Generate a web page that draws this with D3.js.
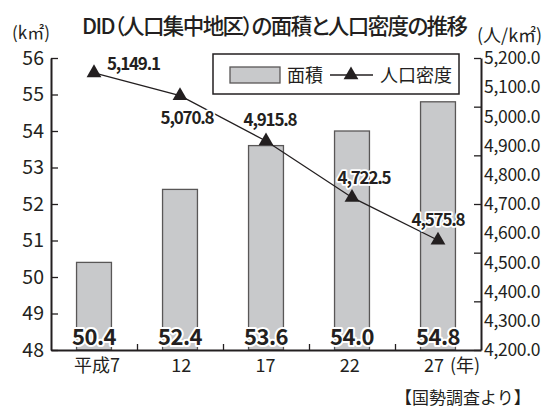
<!DOCTYPE html>
<html>
<head>
<meta charset="utf-8">
<script src="https://cdn.jsdelivr.net/npm/d3@7"></script>
<style>
  body { margin: 0; background: #fff; }
  svg { display: block; font-family: "Noto Sans CJK JP", "Noto Sans", sans-serif; font-feature-settings: "palt"; }
</style>
</head>
<body>
<svg id="chart" width="547" height="409"></svg>
<script>
// data
const years = ["平成7", "12", "17", "22", "27"]
const area = [50.4, 52.4, 53.6, 54.0, 54.8]
const density = [5149.1, 5070.8, 4915.8, 4722.5, 4575.8]
const areaTicks = [48, 49, 50, 51, 52, 53, 54, 55, 56]
const densityTicks = [4200, 4300, 4400, 4500, 4600, 4700, 4800, 4900, 5000, 5100, 5200]

const ink = "#231f20"
const barFill = "#c8c9cb"
const barStroke = "#595757"

const svg = d3.select("#chart")
const plotL = 51, plotR = 481, plotT = 58, plotB = 350

// scales
const x = d3.scaleBand().domain(years).range([plotL, plotR]).paddingInner(0.594).paddingOuter(0.297)
const xl = d3.scalePoint().domain(years).range([97, 434])
const y = d3.scaleLinear().domain([48, 56]).range([plotB, plotT])
const y2 = d3.scaleLinear().domain([4200, 5200]).range([plotB, plotT])
const cx = (d) => x(d) + x.bandwidth() / 2

// bars
svg.append("g").selectAll("rect")
  .data(area)
  .join("rect")
  .attr("x", (d, i) => x(years[i]))
  .attr("y", (d) => y(d))
  .attr("width", x.bandwidth())
  .attr("height", (d) => y(48) - y(d))
  .attr("fill", barFill)
  .attr("stroke", barStroke)
  .attr("stroke-width", 1.3)

// left axis
const gl = svg.append("g").attr("transform", `translate(${plotL},0)`)
  .call(d3.axisLeft(y).tickValues(areaTicks).tickSize(-7).tickPadding(7).tickSizeOuter(0))
gl.select(".domain").attr("stroke", ink).attr("stroke-width", 2)
gl.selectAll(".tick line").attr("stroke", ink).attr("stroke-width", 1.3)
gl.selectAll(".tick text").attr("fill", ink).attr("font-size", 19.5).attr("font-family", "Noto Sans CJK JP")

// right axis: line + 7 tick marks, labels placed separately
const tickScale = d3.scaleLinear().domain([0, 6]).range([plotB, plotT])
const gr = svg.append("g").attr("transform", `translate(${plotR},0)`)
  .call(d3.axisRight(tickScale).ticks(6).tickSize(-7).tickFormat("").tickSizeOuter(0))
gr.select(".domain").attr("stroke", ink).attr("stroke-width", 2)
gr.selectAll(".tick line").attr("stroke", ink).attr("stroke-width", 1.3)

svg.append("g").selectAll("text")
  .data(densityTicks)
  .join("text")
  .attr("x", plotR + 3)
  .attr("y", (d) => y2(d))
  .attr("dy", "0.35em")
  .attr("fill", ink)
  .attr("font-size", 17.5)
  .attr("letter-spacing", -0.3)
  .text((d) => d3.format(",.1f")(d))

// bottom axis
const xt = d3.scaleLinear().domain([0, 5]).range([plotL, plotR])
const gb = svg.append("g").attr("transform", `translate(0,${plotB})`)
  .call(d3.axisBottom(xt).tickValues([1, 2, 3, 4]).tickSize(-6).tickFormat("").tickSizeOuter(0))
gb.select(".domain").attr("stroke", ink).attr("stroke-width", 2)
gb.selectAll(".tick line").attr("stroke", ink).attr("stroke-width", 1.3)

svg.append("g").selectAll("text")
  .data(years)
  .join("text")
  .attr("x", (d) => xl(d))
  .attr("y", 372)
  .attr("text-anchor", "middle")
  .attr("fill", ink)
  .attr("font-size", 18)
  .text((d) => d)

svg.append("text").attr("x", 450).attr("y", 372).attr("fill", ink).attr("font-size", 18).text("(年)")

// bar value labels
svg.append("g").selectAll("text")
  .data(area)
  .join("text")
  .attr("x", (d, i) => cx(years[i]))
  .attr("y", 345)
  .attr("text-anchor", "middle")
  .attr("font-size", 22)
  .attr("font-weight", 700)
  .attr("letter-spacing", -0.5)
  .attr("fill", ink)
  .attr("stroke", "#fff")
  .attr("stroke-width", 4)
  .attr("stroke-linejoin", "round")
  .attr("paint-order", "stroke")
  .text((d) => d.toFixed(1))

// density line
const line = d3.line()
  .x((d, i) => cx(years[i]))
  .y((d) => y2(d))

svg.append("path")
  .datum(density)
  .attr("fill", "none")
  .attr("stroke", ink)
  .attr("stroke-width", 1.3)
  .attr("d", line)

const tri = d3.symbol().type(d3.symbolTriangle).size(95)
svg.append("g").selectAll("path")
  .data(density)
  .join("path")
  .attr("transform", (d, i) => `translate(${cx(years[i])},${y2(d)})`)
  .attr("d", tri)
  .attr("fill", ink)

// density labels (offsets from point)
const labelOffsets = [[13, -9, "start"], [7, 22, "middle"], [4, -21, "middle"], [12, -19, "middle"], [0, -20, "middle"]]
svg.append("g").selectAll("text")
  .data(density)
  .join("text")
  .attr("x", (d, i) => cx(years[i]) + labelOffsets[i][0])
  .attr("y", (d, i) => y2(d) + labelOffsets[i][1])
  .attr("dy", "0.35em")
  .attr("text-anchor", (d, i) => labelOffsets[i][2])
  .attr("font-size", 17)
  .attr("font-weight", 700)
  .attr("letter-spacing", -1.2)
  .attr("fill", ink)
  .attr("stroke", "#fff")
  .attr("stroke-width", 3.5)
  .attr("stroke-linejoin", "round")
  .attr("paint-order", "stroke")
  .text((d) => d3.format(",.1f")(d))

// legend
const lg = svg.append("g")
lg.append("rect").attr("x", 213).attr("y", 54).attr("width", 246).attr("height", 40)
  .attr("fill", "#fff").attr("stroke", ink).attr("stroke-width", 1.5)
lg.append("rect").attr("x", 230).attr("y", 67).attr("width", 50).attr("height", 16)
  .attr("fill", barFill).attr("stroke", barStroke).attr("stroke-width", 1.3)
lg.append("text").attr("x", 287).attr("y", 81.5).attr("font-size", 18).attr("fill", ink).text("面積")
lg.append("line").attr("x1", 330).attr("x2", 373).attr("y1", 75).attr("y2", 75)
  .attr("stroke", ink).attr("stroke-width", 1.3)
lg.append("path").attr("transform", "translate(351,75)").attr("d", tri).attr("fill", ink)
lg.append("text").attr("x", 380).attr("y", 81.5).attr("font-size", 18).attr("fill", ink).text("人口密度")

// title & units
svg.append("text").attr("x", 82).attr("y", 34).attr("font-size", 21.5).attr("font-weight", 500)
  .attr("letter-spacing", -1.6).attr("fill", ink).text("DID（人口集中地区）の面積と人口密度の推移")

svg.append("text").attr("x", 12).attr("y", 38.5).attr("font-size", 17).attr("fill", ink).text("(k㎡)")
svg.append("text").attr("x", 477).attr("y", 41.5).attr("font-size", 18).attr("fill", ink).text("(人/k㎡)")

// source
svg.append("text").attr("x", 395).attr("y", 404).attr("font-size", 17).attr("fill", ink)
  .style("font-feature-settings", "normal")
  .text("【国勢調査より】")
</script>
</body>
</html>
